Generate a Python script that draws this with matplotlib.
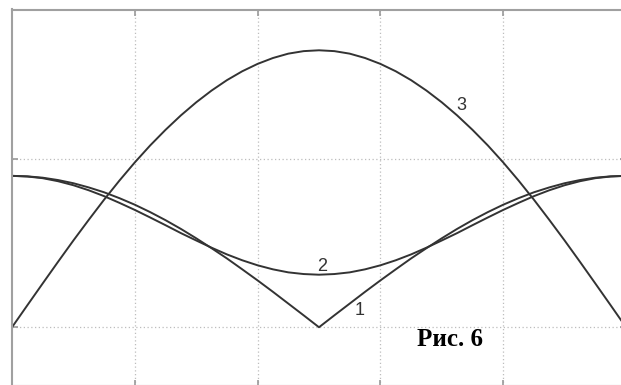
import numpy as np
import matplotlib
matplotlib.use("Agg")
import matplotlib.pyplot as plt

# x grid 0..5 step 0.125
x = np.arange(41) * 0.125

# curve 1 (V-shaped)
y1 = [0.902, 0.899, 0.891, 0.877, 0.858, 0.833, 0.804, 0.769, 0.730, 0.686,
      0.638, 0.586, 0.530, 0.471, 0.410, 0.345, 0.279, 0.211, 0.141, 0.071,
      0.000,
      0.071, 0.141, 0.211, 0.279, 0.345, 0.410, 0.471, 0.530, 0.586, 0.638,
      0.686, 0.730, 0.769, 0.804, 0.833, 0.858, 0.877, 0.891, 0.899, 0.902]
# curve 2 (smooth dip)
y2 = [0.902, 0.898, 0.888, 0.870, 0.846, 0.816, 0.781, 0.741, 0.699, 0.654,
      0.608, 0.561, 0.517, 0.474, 0.434, 0.399, 0.369, 0.345, 0.327, 0.317,
      0.313,
      0.317, 0.327, 0.345, 0.369, 0.399, 0.434, 0.474, 0.517, 0.561, 0.608,
      0.654, 0.699, 0.741, 0.781, 0.816, 0.846, 0.870, 0.888, 0.898, 0.902]
# curve 3 (arch)
y3 = [0.000, 0.131, 0.261, 0.390, 0.517, 0.640, 0.760, 0.874, 0.982, 1.083,
      1.176, 1.262, 1.340, 1.410, 1.472, 1.525, 1.569, 1.604, 1.630, 1.645,
      1.650,
      1.645, 1.630, 1.604, 1.569, 1.525, 1.472, 1.410, 1.340, 1.262, 1.176,
      1.083, 0.982, 0.874, 0.760, 0.640, 0.517, 0.390, 0.261, 0.131, 0.000]

xticks = [1, 2, 3, 4]
yticks = [0, 1]

fig = plt.figure(figsize=(6.21, 3.85), dpi=100)
ax = fig.add_axes([12 / 621, -1 / 385, 614 / 621, 376.5 / 385])

lc = "#333333"
ax.plot(x, y1, color=lc, lw=1.4)
ax.plot(x, y2, color=lc, lw=1.4)
ax.plot(x, y3, color=lc, lw=1.4)

ax.set_xlim(0, 5)
ax.set_ylim(-0.35, 1.893)
ax.set_xticks(xticks)
ax.set_yticks(yticks)
ax.set_xticklabels([])
ax.set_yticklabels([])
ax.tick_params(direction="in", length=4, width=1.2, color="#999999",
               top=True, right=True, bottom=True, left=True)
ax.grid(True, linestyle=(0, (1, 2)), color="#bdbdbd", lw=0.9)
for s in ax.spines.values():
    s.set_color("#a0a0a0")
    s.set_linewidth(1.5)

ax.text(3.656, 1.319, "3", fontsize=13, family="Liberation Sans",
        color=lc, ha="center", va="center")
ax.text(2.524, 0.360, "2", fontsize=13, family="Liberation Sans",
        color=lc, ha="center", va="center")
ax.text(2.834, 0.099, "1", fontsize=13, family="Liberation Sans",
        color=lc, ha="center", va="center")
ax.text(3.567, -0.074, "Рис. 6", fontsize=18, family="Liberation Serif",
        fontweight="bold", color="black", ha="center", va="center")

fig.savefig("out.png", dpi=100)
